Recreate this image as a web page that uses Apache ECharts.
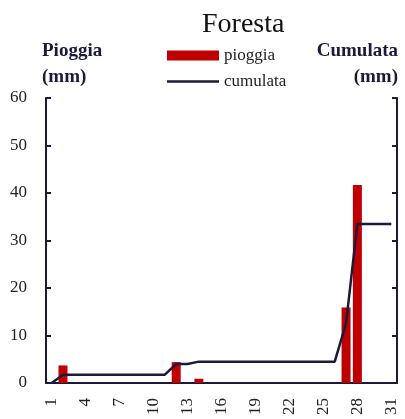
<!DOCTYPE html>
<html><head><meta charset="utf-8">
<script src="https://cdn.jsdelivr.net/npm/echarts@6/dist/echarts.min.js"></script>
<style>html,body{margin:0;padding:0;background:#fff}#c{width:405px;height:419px}</style>
</head><body><div id="c"></div>
<script>
const days = ['1','2','3','4','5','6','7','8','9','10','11','12','13','14','15','16','17','18','19','20','21','22','23','24','25','26','27','28','29','30','31'];
const pioggia = [0,3.7,0,0,0,0,0,0,0,0,0,4.4,0,0.9,0,0,0,0,0,0,0,0,0,0,0,0,15.9,41.7,0,0,0];
const cumulata = [0,3.5,3.5,3.5,3.5,3.5,3.5,3.5,3.5,3.5,3.5,8.0,8.0,9.0,9.0,9.0,9.0,9.0,9.0,9.0,9.0,9.0,9.0,9.0,9.0,9.0,25.1,67.0,67.0,67.0,67.0];
const leftTicks = {min:0, max:60, interval:10};
const rightTicks = {min:0, max:120, interval:20};

const FONT = 'Liberation Serif';
const NAVY = '#1c1a3a';
const BOLD = 'bold 19px "Liberation Serif"';
const chart = echarts.init(document.getElementById('c'), null, {renderer:'canvas'});
chart.setOption({
  animation:false,
  textStyle:{fontFamily:FONT},
  title:{text:'Foresta', left:197, top:6, textStyle:{fontFamily:FONT, fontSize:28, fontWeight:'normal', color:'#111'}},
  legend:{
    orient:'vertical', left:162, top:42, itemWidth:52, itemHeight:10, itemGap:9,
    textStyle:{fontFamily:FONT, fontSize:17, lineHeight:17, color:'#222'},
    data:[{name:'pioggia', icon:'rect'},{name:'cumulata', icon:'path://M0,0 L52,0 L52,2.6 L0,2.6 Z'}]
  },
  graphic:[
    {type:'text', left:42, top:42, style:{text:'Pioggia', font:BOLD, fill:NAVY}},
    {type:'text', left:42, top:68, style:{text:'(mm)', font:BOLD, fill:NAVY}},
    {type:'text', right:7, top:42, style:{text:'Cumulata', font:BOLD, fill:NAVY}},
    {type:'text', right:7, top:68, style:{text:'(mm)', font:BOLD, fill:NAVY}}
  ],
  grid:{left:46, right:8, top:98, bottom:36},
  xAxis:{type:'category', data:days, boundaryGap:true,
    axisLine:{lineStyle:{color:NAVY, width:2}}, axisTick:{show:false},
    axisLabel:{interval:2, rotate:90, fontFamily:FONT, fontSize:17, color:'#222', margin:15}},
  yAxis:[
    {type:'value', min:leftTicks.min, max:leftTicks.max, interval:leftTicks.interval,
      axisLine:{show:true, lineStyle:{color:NAVY, width:2}},
      axisTick:{show:true, inside:true, length:5, lineStyle:{color:NAVY, width:2}},
      splitLine:{show:false},
      axisLabel:{fontFamily:FONT, fontSize:17, color:'#222', margin:19}},
    {type:'value', min:rightTicks.min, max:rightTicks.max, interval:rightTicks.interval, position:'right',
      axisLine:{show:true, lineStyle:{color:NAVY, width:2}},
      axisTick:{show:true, inside:true, length:5, lineStyle:{color:NAVY, width:2}},
      splitLine:{show:false}, axisLabel:{show:false}}
  ],
  series:[
    {name:'pioggia', type:'bar', data:pioggia, yAxisIndex:0, barWidth:9, itemStyle:{color:'#c00000'}, z:1},
    {name:'cumulata', type:'line', data:cumulata, yAxisIndex:1, symbol:'none', lineStyle:{color:NAVY, width:2.5}, itemStyle:{color:NAVY}, z:3}
  ]
});
</script></body></html>
